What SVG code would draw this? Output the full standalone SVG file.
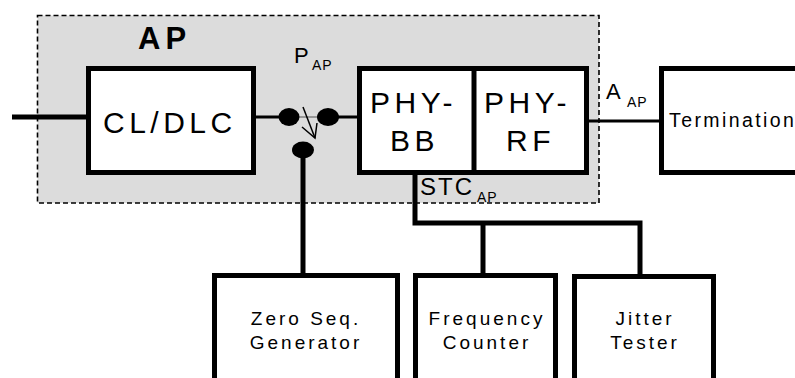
<svg xmlns="http://www.w3.org/2000/svg" width="795" height="378" viewBox="0 0 795 378">
<style>
.box{fill:#fff;stroke:#000;stroke-width:5}
.t{font-family:"Liberation Sans",Arial,sans-serif;fill:#000}
.big{font-size:30px;letter-spacing:4.5px}
.mid{font-size:19px;letter-spacing:3px}
.sub{font-size:14px;letter-spacing:1px}
.thick{stroke:#000;stroke-width:5;fill:none}
.med{stroke:#000;stroke-width:3;fill:none}
.thin{stroke:#000;stroke-width:1.5;fill:none}
</style>
<rect id="ap-region" x="37.5" y="15.5" width="561.5" height="187.5" fill="#dcdcdc" stroke="#000" stroke-width="1.6" stroke-dasharray="5,3"/>
<text class="t" x="138" y="49" font-size="31" font-weight="bold" letter-spacing="5">AP</text>
<g id="connectors">
<line class="thick" x1="12" y1="117" x2="88" y2="117"/>
<line class="med" x1="256" y1="117" x2="289" y2="117"/>
<line x1="289" y1="117" x2="328" y2="117" stroke="#808080" stroke-width="1.5"/>
<line class="med" x1="328" y1="117" x2="362" y2="117"/>
<line class="thick" x1="303" y1="150" x2="303" y2="274"/>
<line class="med" x1="589" y1="121" x2="660" y2="121"/>
<polyline class="thick" points="415,175 415,223 640,223 640,274"/>
<line class="thick" x1="483" y1="223" x2="483" y2="274"/>
<line class="thin" x1="303" y1="107" x2="315" y2="138"/>
<polyline class="thin" points="302,127 315,138 317,123"/>
</g>
<g id="switch">
<ellipse cx="289" cy="117" rx="10.5" ry="9"/>
<ellipse cx="328" cy="117" rx="11" ry="9"/>
<ellipse cx="303" cy="150" rx="11" ry="8.5"/>
</g>
<text class="t" x="294" y="63" font-size="22">P</text>
<text class="t sub" x="312" y="70">AP</text>
<g id="cldlc">
<rect class="box" x="88.5" y="68.5" width="165" height="104"/>
<text class="t big" x="103" y="133">CL/DLC</text>
</g>
<g id="phy">
<rect class="box" x="359.5" y="68.5" width="227" height="104"/>
<line class="thick" x1="474" y1="68.5" x2="474" y2="172.5"/>
<text class="t big" x="370" y="113" letter-spacing="5">PHY-</text>
<text class="t big" x="390" y="151" letter-spacing="5">BB</text>
<text class="t big" x="484" y="113" letter-spacing="5">PHY-</text>
<text class="t big" x="506" y="151" letter-spacing="5">RF</text>
</g>
<text class="t" x="420" y="195" font-size="24" letter-spacing="2">STC</text>
<text class="t sub" x="477" y="202">AP</text>
<text class="t" x="606" y="99" font-size="22">A</text>
<text class="t sub" x="627" y="107">AP</text>
<g id="termination">
<rect class="box" x="661.5" y="68.5" width="150" height="104"/>
<text class="t" x="669" y="127" font-size="19.5" letter-spacing="2.4">Termination</text>
</g>
<g id="zeroseq">
<rect class="box" x="214.5" y="275.5" width="183" height="130"/>
<text class="t mid" x="306" y="325" text-anchor="middle">Zero Seq.</text>
<text class="t mid" x="306" y="349" text-anchor="middle">Generator</text>
</g>
<g id="freq">
<rect class="box" x="415.5" y="275.5" width="140" height="130"/>
<text class="t mid" x="487" y="325" text-anchor="middle">Frequency</text>
<text class="t mid" x="487" y="349" text-anchor="middle">Counter</text>
</g>
<g id="jitter">
<rect class="box" x="574.5" y="276.5" width="139" height="130"/>
<text class="t mid" x="645" y="325" text-anchor="middle">Jitter</text>
<text class="t mid" x="645" y="349" text-anchor="middle">Tester</text>
</g>
</svg>
